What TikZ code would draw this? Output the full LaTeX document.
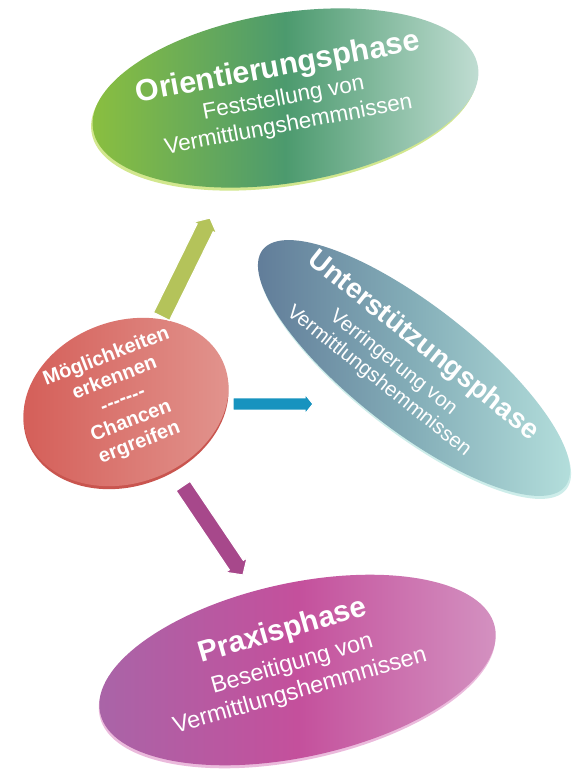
\documentclass[tikz,border=0pt]{standalone}
\usepackage{fontspec}
\setmainfont{Liberation Sans}
\usetikzlibrary{shapes.geometric,calc}

\definecolor{gA}{HTML}{8CC03E}
\definecolor{gB}{HTML}{4C9A6E}
\definecolor{gC}{HTML}{C4DFD6}
\definecolor{gRim}{HTML}{D2E78E}
\definecolor{bA}{HTML}{5E7896}
\definecolor{bB}{HTML}{84AEB8}
\definecolor{bC}{HTML}{B8E3DF}
\definecolor{bRim}{HTML}{CDEDEA}
\definecolor{pA}{HTML}{A865A8}
\definecolor{pB}{HTML}{C4509C}
\definecolor{pC}{HTML}{D494C2}
\definecolor{pRim}{HTML}{EBBADC}
\definecolor{rA}{HTML}{D45C56}
\definecolor{rB}{HTML}{E29690}
\definecolor{rRim}{HTML}{C9554F}
\definecolor{arG}{HTML}{B4C35A}
\definecolor{arB}{HTML}{1793BF}
\definecolor{arP}{HTML}{A7488B}

\newcommand\myblockarrow[6]{%
  % #1 tail, #2 tip, #3 shaft half width, #4 head half width, #5 head length, #6 colour
  \coordinate (hb) at ($(#2)!#5!(#1)$);
  \fill[black!45,opacity=.45,shift={(2pt,-2pt)}]
    ($(#1)!#3!90:(#2)$) -- ($(hb)!#3!-90:(#1)$) -- ($(hb)!#4!-90:(#1)$) -- (#2)
    -- ($(hb)!#4!90:(#1)$) -- ($(hb)!#3!90:(#1)$) -- ($(#1)!#3!-90:(#2)$) -- cycle;
  \filldraw[fill=#6,draw=white,line width=1.2pt,line join=miter]
    ($(#1)!#3!90:(#2)$) -- ($(hb)!#3!-90:(#1)$) -- ($(hb)!#4!-90:(#1)$) -- (#2)
    -- ($(hb)!#4!90:(#1)$) -- ($(hb)!#3!90:(#1)$) -- ($(#1)!#3!-90:(#2)$) -- cycle;
}

\begin{document}
\begin{tikzpicture}[x=1pt,y=-1pt,
  phase/.style={ellipse,inner sep=0pt,draw=none},
  phasetext/.style={align=center,text=white,inner sep=0pt}]
\useasboundingbox[fill=white] (0,0) rectangle (580,773);

% ---- top ellipse
\node[phase,minimum width=390pt,minimum height=170pt,rotate=9.3,fill=gRim] at (284,101) {};
\node[phase,minimum width=390pt,minimum height=170pt,rotate=9.3,
      left color=gA,right color=gC,middle color=gB] (orient) at (285.5,98) {};
\node[phasetext,rotate=10.5,font=\fontsize{22.5}{27}\selectfont] (torient) at (283,95)
  {{\fontsize{30.5}{30}\selectfont\bfseries Orientierungsphase}\\[2pt]Feststellung von\\Vermittlungshemmnissen};

% ---- right ellipse
\node[phase,minimum width=384pt,minimum height=124pt,rotate=-38,fill=bRim] at (415,371) {};
\node[phase,minimum width=384pt,minimum height=124pt,rotate=-38,
      left color=bA,right color=bC,middle color=bB] (unter) at (414,368) {};
\node[phasetext,rotate=-38.5,font=\fontsize{28}{28}\selectfont\bfseries] (tunter) at (423,346)
  {Unterstützungsphase};
\node[phasetext,rotate=-38.5,font=\fontsize{20.5}{23.5}\selectfont] (tunter2) at (386,372)
  {Verringerung von\\Vermittlungshemmnissen};

% ---- bottom ellipse
\node[phase,minimum width=404pt,minimum height=174pt,rotate=12.3,fill=pRim] at (297,673) {};
\node[phase,minimum width=404pt,minimum height=174pt,rotate=12.3,
      left color=pA,right color=pC,middle color=pB] (praxis) at (297.5,670) {};
\node[phasetext,rotate=16,font=\fontsize{23.5}{28}\selectfont] (tpraxis) at (291,660)
  {{\fontsize{29.5}{30}\selectfont\bfseries Praxisphase}\\[5pt]Beseitigung von\\Vermittlungshemmnissen};

% ---- centre circle
\node[phase,minimum width=210pt,minimum height=162pt,rotate=20,fill=rRim] at (126,405) {};
\node[phase,minimum width=210pt,minimum height=162pt,rotate=20,
      left color=rA,right color=rB] (center) at (126,402) {};
\node[phasetext,rotate=21,font=\fontsize{20}{23}\selectfont\bfseries] (tcenter) at (123,400)
  {Möglichkeiten\\erkennen\\-{}-{}-{}-{}-{}-{}-\\Chancen\\ergreifen};

% ---- block arrows
\coordinate (gT) at (161.5,316.5);
\coordinate (gH) at (210,218);
\coordinate (bT) at (233,404);
\coordinate (bH) at (313,404);
\coordinate (pT) at (183,486);
\coordinate (pH) at (243,575);
\myblockarrow{gT}{gH}{9pt}{13pt}{11pt}{arG}
\myblockarrow{bT}{bH}{6.2pt}{10pt}{8pt}{arB}
\myblockarrow{pT}{pH}{8.5pt}{13pt}{12pt}{arP}
\end{tikzpicture}
\end{document}
